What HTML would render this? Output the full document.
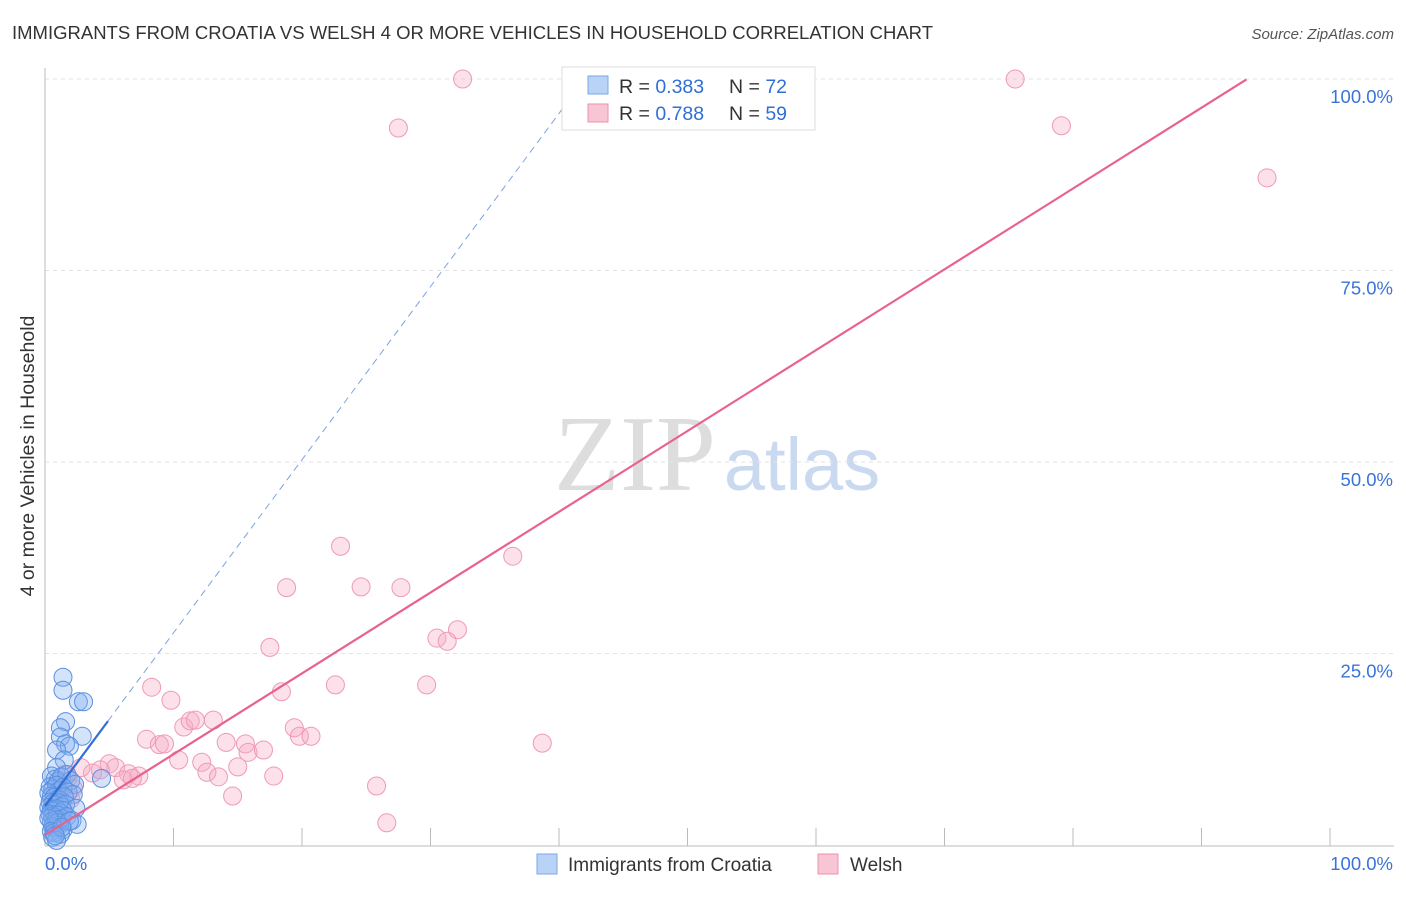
<!DOCTYPE html>
<html><head><meta charset="utf-8"><style>
body{margin:0;background:#fff;font-family:"Liberation Sans",sans-serif}
</style></head><body>
<svg id="chart" width="1406" height="892" xmlns="http://www.w3.org/2000/svg">
<text x="12" y="39" font-size="18.5" fill="#333">IMMIGRANTS FROM CROATIA VS WELSH 4 OR MORE VEHICLES IN HOUSEHOLD CORRELATION CHART</text>
<text x="1394" y="39" font-size="15" fill="#555" font-style="italic" text-anchor="end">Source: ZipAtlas.com</text>
<text transform="translate(34,456) rotate(-90)" font-size="19.5" fill="#333" text-anchor="middle">4 or more Vehicles in Household</text>
<g><text x="635" y="490" font-size="108" fill="#ddd" font-family="Liberation Serif,serif" text-anchor="middle">ZIP</text><text x="802" y="490" font-size="74" fill="#c9d9f0" text-anchor="middle">atlas</text></g>
<g id="grid"></g><g id="axes"></g><g id="pts"></g><g id="lines"></g>
<g>
<rect x="562" y="67" width="253" height="63" fill="#fff" stroke="#ddd"/>
<rect x="588" y="76" width="20" height="18" fill="#b8d3f5" stroke="#7aa7e6"/>
<text x="619" y="93" font-size="19.5" fill="#333">R = <tspan fill="#2f6fd6">0.383</tspan></text>
<text x="729" y="93" font-size="19.5" fill="#333">N = <tspan fill="#2f6fd6">72</tspan></text>
<rect x="588" y="104" width="20" height="18" fill="#f8c5d4" stroke="#ec92ae"/>
<text x="619" y="120" font-size="19.5" fill="#333">R = <tspan fill="#2f6fd6">0.788</tspan></text>
<text x="729" y="120" font-size="19.5" fill="#333">N = <tspan fill="#2f6fd6">59</tspan></text>
</g>
<g>
<rect x="537" y="854" width="20" height="20" fill="#b8d3f5" stroke="#7aa7e6"/><text x="568" y="871" font-size="19" fill="#333">Immigrants from Croatia</text>
<rect x="818" y="854" width="20" height="20" fill="#f8c5d4" stroke="#ec92ae"/><text x="850" y="871" font-size="19" fill="#333">Welsh</text>
</g>
</svg>
<script>
const yTicks=[25,50,75,100];
const yTickLabels=["25.0%","50.0%","75.0%","100.0%"];
const xTickLabels=["0.0%","100.0%"];
const croatiaX=[1.4,1.4,2.6,3.0,1.6,1.2,1.2,2.9,1.6,1.9,0.9,1.5,0.9,4.4,0.5,0.8,1.0,1.3,1.7,2.0,2.3,0.4,0.6,0.9,1.1,1.4,1.8,2.2,0.3,0.5,0.7,1.0,1.2,1.5,0.4,0.6,0.8,1.1,1.3,1.6,2.4,0.3,0.5,0.7,0.9,1.2,1.4,0.4,0.6,0.8,1.0,1.3,1.7,2.1,0.5,0.7,0.9,1.1,0.6,0.8,1.0,1.4,2.5,0.3,0.5,0.7,1.2,1.9,0.6,0.9,1.3,0.8];
const croatiaY=[21.9,20.2,18.7,18.7,16.1,15.3,14.1,14.2,13.2,12.9,12.4,11.1,10.1,8.7,9.0,8.6,8.3,8.9,9.2,8.4,7.9,7.6,7.3,7.8,7.1,7.5,6.9,6.6,6.8,6.4,6.2,6.0,5.8,6.3,5.6,5.4,5.2,5.5,5.0,5.3,4.8,4.9,4.6,4.4,4.7,4.2,4.5,4.0,3.8,3.6,3.9,3.4,3.7,3.2,3.0,2.8,3.3,2.6,2.4,2.2,2.9,2.0,2.7,3.5,1.8,1.6,1.4,3.1,1.0,0.6,2.3,1.2];
const welshX=[32.5,75.5,27.5,79.1,95.1,23,36.4,24.6,27.7,18.8,32.1,30.5,31.3,17.5,22.6,29.7,8.3,18.4,9.8,19.4,10.8,11.3,11.7,13.1,19.8,20.7,7.9,8.9,9.3,14.1,15.6,38.7,15.8,17,10.4,12.2,15,12.6,13.5,17.8,5,5.5,6.5,7.3,6.1,6.8,3.7,4.3,2.8,25.8,14.6,26.6,1.2,1.8,2.2,1.0,1.5,0.8,2.0];
const welshY=[100,100,93.6,93.9,87.1,39,37.7,33.7,33.6,33.6,28.1,27,26.6,25.8,20.9,20.9,20.6,20,18.9,15.3,15.4,16.2,16.3,16.3,14.2,14.2,13.8,13.1,13.2,13.4,13.2,13.3,12.1,12.4,11.1,10.8,10.2,9.5,8.9,9.0,10.6,10.1,9.3,9.0,8.5,8.7,9.4,9.8,10.1,7.7,6.4,2.9,8.0,8.8,7.4,6.8,9.2,7.0,6.0];
const croatiaFit=[5.1,2.26], welshFit=[1.3,1.055];
const X=v=>45+v*12.85, Y=v=>845-v*7.66;
const NS="http://www.w3.org/2000/svg";
function mk(tag,attrs,parent,text){const e=document.createElementNS(NS,tag);for(const k in attrs)e.setAttribute(k,attrs[k]);if(text!==undefined)e.textContent=text;document.getElementById(parent).appendChild(e);return e;}
yTicks.forEach((t,i)=>{
 const g=mk('line',{x1:45,x2:1394,y1:Y(t),y2:Y(t),stroke:'#e2e2e2','stroke-dasharray':'4,4'},'grid');
 
 
 const l=mk('text',{x:1393,y:Y(t)+24,'font-size':18.5,fill:'#3a74d8','text-anchor':'end'},'axes',yTickLabels[i]);
 
 
});
const ax=mk('line',{x1:45,x2:45,y1:68,y2:846,stroke:'#bbb'},'axes');


const bx=mk('line',{x1:45,x2:1394,y1:846,y2:846,stroke:'#bbb'},'axes');


for(let i=1;i<=10;i++){const t=mk('line',{x1:45+i*128.5,x2:45+i*128.5,y1:828,y2:846,stroke:'#bbb'},'axes');
 
 }
const l0=mk('text',{x:45,y:870,'font-size':18.5,fill:'#3a74d8'},'axes',xTickLabels[0]);


const l1=mk('text',{x:1393,y:870,'font-size':18.5,fill:'#3a74d8','text-anchor':'end'},'axes',xTickLabels[1]);


welshX.forEach((x,i)=>{const c=mk('circle',{cx:X(x),cy:Y(welshY[i]),r:9,fill:'rgba(246,170,195,0.35)',stroke:'#ee9ab5','stroke-width':1},'pts');
 
 });
croatiaX.forEach((x,i)=>{const c=mk('circle',{cx:X(x),cy:Y(croatiaY[i]),r:9,fill:'rgba(130,175,240,0.35)',stroke:'#5b8fe0','stroke-width':1},'pts');
 
 });
const wl=mk('line',{x1:X(0),y1:Y(welshFit[0]),x2:X(93.5),y2:Y(welshFit[0]+welshFit[1]*93.5),stroke:'#e8618f','stroke-width':2.2},'lines');


const cs=mk('line',{x1:X(0),y1:Y(croatiaFit[0]),x2:X(4.9),y2:Y(croatiaFit[0]+croatiaFit[1]*4.9),stroke:'#2f6fd6','stroke-width':2.2},'lines');


const cd=mk('line',{x1:X(4.9),y1:Y(croatiaFit[0]+croatiaFit[1]*4.9),x2:X(42),y2:Y(croatiaFit[0]+croatiaFit[1]*42),stroke:'#7aa3e6','stroke-width':1,'stroke-dasharray':'7,5'},'lines');


</script>
</body></html>
